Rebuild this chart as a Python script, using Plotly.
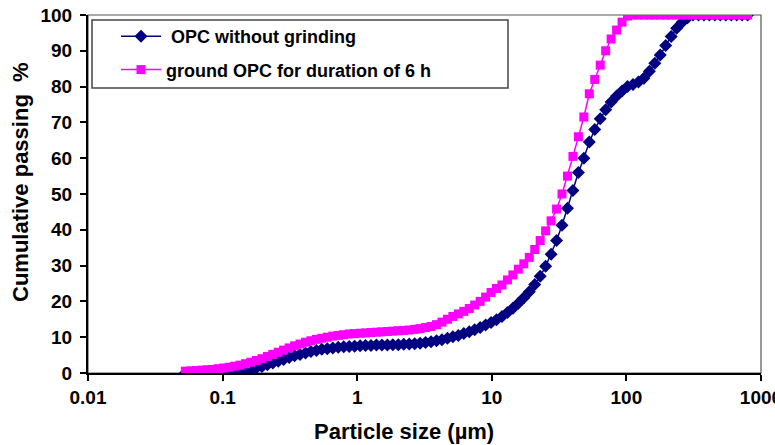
import plotly.graph_objects as go

# Particle size channels (µm)
sizes = [0.0529, 0.0581, 0.0638, 0.0700, 0.0769, 0.0844, 0.0927, 0.102, 0.112, 0.123,
         0.135, 0.148, 0.162, 0.178, 0.196, 0.215, 0.236, 0.259, 0.284, 0.312,
         0.343, 0.376, 0.413, 0.453, 0.498, 0.546, 0.600, 0.659, 0.723, 0.794,
         0.872, 0.957, 1.051, 1.153, 1.266, 1.390, 1.526, 1.676, 1.840, 2.020,
         2.218, 2.435, 2.673, 2.934, 3.221, 3.537, 3.883, 4.263, 4.680, 5.138,
         5.641, 6.193, 6.799, 7.464, 8.194, 8.996, 9.877, 10.84, 11.90, 13.07,
         14.35, 15.75, 17.29, 18.99, 20.84, 22.88, 25.12, 27.58, 30.28, 33.24,
         36.49, 40.07, 43.99, 48.29, 53.02, 58.21, 63.90, 70.16, 77.02, 84.56,
         92.83, 101.9, 111.9, 122.9, 134.9, 148.1, 162.6, 178.5, 195.9, 215.1,
         236.2, 259.3, 284.7, 312.6, 343.2, 376.8, 413.6, 454.2, 498.6, 547.4,
         601.0, 659.8, 724.4, 795.3]

opc_without_grinding = [0.0, 0.0, 0.0, 0.0, 0.0, 0.0, 0.0, 0.1, 0.2, 0.3,
                        0.5, 0.7, 1.0, 1.4, 1.8, 2.3, 2.8, 3.3, 3.8, 4.3,
                        4.8, 5.2, 5.6, 6.0, 6.3, 6.6, 6.8, 7.0, 7.2, 7.3,
                        7.4, 7.5, 7.6, 7.7, 7.7, 7.8, 7.8, 7.8, 7.9, 7.9,
                        8.0, 8.1, 8.2, 8.3, 8.5, 8.7, 9.0, 9.3, 9.7, 10.1,
                        10.5, 11.0, 11.5, 12.1, 12.7, 13.4, 14.1, 14.9, 15.8, 16.9,
                        18.1, 19.5, 21.0, 22.7, 24.7, 27.0, 29.8, 33.2, 37.0, 41.3,
                        46.0, 51.0, 56.0, 60.0, 64.5, 68.0, 71.0, 73.5, 75.7, 77.4,
                        78.8, 80.0, 80.6, 81.3, 82.3, 84.3, 86.5, 88.8, 91.5, 94.0,
                        96.3, 98.0, 99.2, 100.0, 100.0, 100.0, 100.0, 100.0, 100.0, 100.0,
                        100.0, 100.0, 100.0, 100.0]

ground_opc_6h = [0.5, 0.6, 0.7, 0.8, 0.9, 1.0, 1.2, 1.4, 1.6, 1.9,
                 2.2, 2.6, 3.0, 3.5, 4.0, 4.6, 5.2, 5.8, 6.4, 7.0,
                 7.6, 8.1, 8.6, 9.0, 9.4, 9.7, 10.0, 10.3, 10.5, 10.7,
                 10.9, 11.0, 11.1, 11.2, 11.3, 11.4, 11.5, 11.6, 11.7, 11.8,
                 11.9, 12.0, 12.2, 12.4, 12.7, 13.0, 13.5, 14.2, 15.0, 15.8,
                 16.5, 17.2, 18.0, 19.0, 20.0, 21.2, 22.5, 23.6, 24.6, 26.0,
                 27.4, 29.0, 30.5, 32.3, 34.5, 37.0, 39.7, 42.5, 45.8, 50.0,
                 55.0, 60.5, 66.0, 71.5, 78.0, 82.0, 86.0, 90.0, 93.3, 95.8,
                 98.0, 99.7, 100.0, 100.0, 100.0, 100.0, 100.0, 100.0, 100.0, 100.0,
                 100.0, 100.0, 100.0, 100.0, 100.0, 100.0, 100.0, 100.0, 100.0, 100.0,
                 100.0, 100.0, 100.0, 100.0]

series_names = ["\u00a0OPC without grinding", "ground OPC for duration of 6 h"]
x_tick_vals = [0.01, 0.1, 1, 10, 100, 1000]
x_tick_text = ["0.01", "0.1", "1", "10", "100", "1000"]
y_tick_vals = [0, 10, 20, 30, 40, 50, 60, 70, 80, 90, 100]

FONT = "Liberation Sans, Arial, sans-serif"
NAVY = "#000080"
MAGENTA = "#FF00FF"

fig = go.Figure()
fig.add_trace(go.Scatter(
    x=sizes, y=opc_without_grinding, name=series_names[0], mode="lines+markers",
    line=dict(color=NAVY, width=1.5),
    marker=dict(symbol="diamond", size=10, color=NAVY),
    legendgroup="a",
))
fig.add_trace(go.Scatter(
    x=sizes, y=ground_opc_6h, name=series_names[1], mode="lines+markers",
    line=dict(color=MAGENTA, width=1.5),
    marker=dict(symbol="square", size=9, color=MAGENTA),
    legendgroup="b",
))

L, R, T, B = 88, 14, 15, 72
W, H = 775, 445
pw, ph = W - L - R, H - T - B

def px(x):
    return (x - L) / pw

def py(y):
    return (H - B - y) / ph

fig.update_layout(
    width=W, height=H,
    margin=dict(l=L, r=R, t=T, b=B, autoexpand=False),
    paper_bgcolor="white", plot_bgcolor="white",
    font=dict(family=FONT, size=19, color="black", weight="bold"),
    showlegend=True,
    legend=dict(
        x=px(116), y=py(18), xanchor="left", yanchor="top",
        bgcolor="rgba(0,0,0,0)", borderwidth=0,
        font=dict(family=FONT, size=18, color="black", weight="bold"),
        itemwidth=40, tracegroupgap=7,
    ),
    xaxis=dict(
        type="log", range=[-2, 3], automargin=False,
        tickvals=x_tick_vals, ticktext=x_tick_text,
        ticks="outside", ticklen=6, tickwidth=1.5, tickcolor="black",
        showline=True, linecolor="black", linewidth=2,
        showgrid=False, zeroline=False, ticklabeloverflow="allow",
        tickfont=dict(family=FONT, size=19, color="black", weight="bold"),
    ),
    yaxis=dict(
        range=[0, 100], tickvals=y_tick_vals, automargin=False,
        ticks="outside", ticklen=6, tickwidth=1.5, tickcolor="black",
        showline=True, linecolor="black", linewidth=2,
        showgrid=False, zeroline=False, ticklabelstandoff=4,
        tickfont=dict(family=FONT, size=19, color="black", weight="bold"),
    ),
    shapes=[
        dict(type="rect", xref="paper", yref="paper", x0=0, x1=1, y0=0, y1=1,
             line=dict(color="#555555", width=1.2), layer="below"),
        dict(type="rect", xref="paper", yref="paper",
             x0=px(92), x1=px(508), y0=py(88), y1=py(20),
             line=dict(color="#444444", width=1.5), fillcolor="white", layer="below"),
    ],
    annotations=[
        dict(text="Particle size (µm)", xref="paper", yref="paper",
             x=px(404), y=py(432), xanchor="center", yanchor="middle", showarrow=False,
             font=dict(family=FONT, size=22, color="black", weight="bold")),
        dict(text="Cumulative passing\u00a0 %", xref="paper", yref="paper",
             x=px(20), y=py(182), xanchor="center", yanchor="middle", showarrow=False,
             textangle=-90,
             font=dict(family=FONT, size=22, color="black", weight="bold")),
    ],
)

fig.write_html("out.html")
